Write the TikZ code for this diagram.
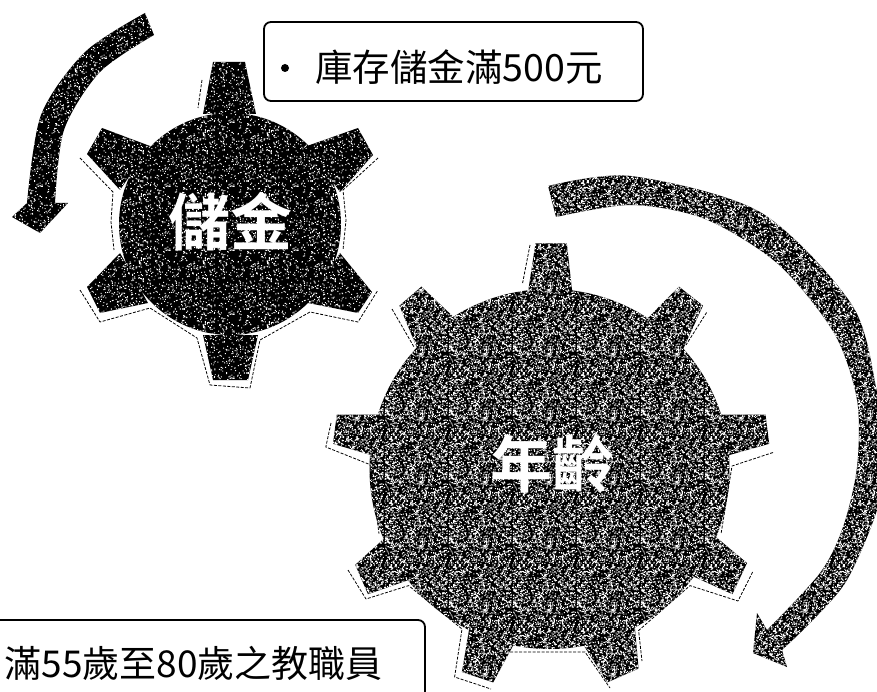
\documentclass[tikz,border=0pt]{standalone}
\usepackage{fontspec}
\usetikzlibrary{patterns}
\newfontfamily\cjk{Noto Sans CJK TC}
\newfontfamily\cjkb{Noto Sans CJK TC Bold}
\pgfmathsetseed{4242}
\newcommand{\NoiseDots}[1]{\foreach \i in {1,...,#1}{%
 \pgfmathsetmacro{\nx}{rnd*64}\pgfmathsetmacro{\ny}{rnd*64}%
 \pgfpathrectangle{\pgfqpoint{\nx pt}{\ny pt}}{\pgfqpoint{1pt}{1pt}}}\pgfusepath{fill}}
\pgfdeclarepatternformonly{noisea}{\pgfqpoint{0pt}{0pt}}{\pgfqpoint{64pt}{64pt}}{\pgfqpoint{64pt}{64pt}}{\NoiseDots{480}}
\pgfdeclarepatternformonly{noiseb}{\pgfqpoint{0pt}{0pt}}{\pgfqpoint{64pt}{64pt}}{\pgfqpoint{64pt}{64pt}}{\NoiseDots{1300}}
\newcommand{\GearA}{
 (230,224) circle[radius=111]
 (203,114)--(213,62)--(245,62)--(256,114)--cycle
 (307,146)--(358,128)--(373,155)--(340,192)--cycle
 (340,253)--(372,292)--(358,313)--(308,303)--cycle
 (258,335)--(248,380)--(213,380)--(203,335)--cycle
 (148,303)--(100,313)--(87,287)--(120,253)--cycle
 (120,190)--(87,154)--(102,128)--(150,146)--cycle}
\newcommand{\GearB}{
 (549.5,469) circle[radius=180]
 (528,292)--(535.5,243.3)--(566.8,243.3)--(572.3,292)--cycle
 (647.8,318)--(679,286.6)--(703,305.6)--(682.7,350)--cycle
 (719.5,414.5)--(765.5,414.5)--(769.2,443.8)--(726,456)--cycle
 (712,533.7)--(747,563)--(732.4,594.2)--(690,575)--cycle
 (634.9,628)--(638.6,668.6)--(607.3,682.4)--(583.4,645)--cycle
 (513.4,645)--(493.2,682.4)--(461.9,672)--(469.3,628)--cycle
 (408.6,580)--(368,594.2)--(355.2,564.8)--(388,535)--cycle
 (374,456)--(333,443.8)--(336.8,414.5)--(384.6,414.5)--cycle
 (417.8,350)--(399.4,305.6)--(421.4,286.6)--(454.6,318)--cycle}
\newcommand{\ArrowA}{
 plot[smooth] coordinates {(145,13)(85,52)(41,115)(27,203)} --(12,217)--(40,233)--(68,203)--(55,203)
 -- plot[smooth] coordinates {(55,203)(64,130)(100,72)(154,35)} -- cycle}
\newcommand{\ArrowB}{
 plot[smooth] coordinates {(548,186)(631,176)(760,212)(852,305)(877,392)(886,450)(877,510)(847,580)(813,620)(782,650)}
 --(787,667)--(753,653)--(757,613)--(767,630)
 -- plot[smooth] coordinates {(767,630)(820,573)(843,527)(857,467)(857,400)(834,333)(778,264)(705,219)(631,205)(556,217)} -- cycle}
\tikzset{
 darktex/.style={fill=black,postaction={pattern=noisea,pattern color=white}},
 greytex/.style={fill=black,postaction={pattern=noiseb,pattern color=white}},
 ghost/.style={line width=0.8pt,black,dash pattern=on 3pt off 1.5pt,line join=round},
 infobox/.style={fill=white,draw=black,line width=1.8pt,rounded corners=7pt},
 boxtext/.style={font=\cjk\fontsize{#1}{40}\selectfont,text=black,inner sep=0pt},
 geartext/.style={font=\cjkb\fontsize{62}{64}\selectfont,text=white,inner sep=0pt}
}
\begin{document}
\begin{tikzpicture}[x=1pt,y=-1pt]
\useasboundingbox (0,0) rectangle (877,692);
\clip (0,0) rectangle (877,692);
% gears and arrows
\path[darktex] \GearA;
\path[darktex] \ArrowA;
\path[greytex] \GearB;
\path[greytex] \ArrowB;
% thin ghost outlines
\draw[ghost] (80,158)--(113,192)--(111,222)--(114,250);
\draw[ghost] (80,290)--(100,322)--(150,308)--(197,338)--(210,385)--(250,388)--(260,340)--(310,312)--(358,322)--(378,290);
\draw[ghost] (378,158)--(343,190)--(346,220)--(343,250);
\draw[ghost] (202,80)--(198,108);
\draw[ghost] (392,309)--(414,347);
\draw[ghost] (706.6,312.5)--(686,345);
\draw[ghost] (530,245)--(522.6,283);
\draw[ghost] (331,423)--(325.8,447)--(370,464.6)--(379,533.7);
\draw[ghost] (348,570)--(366,599)--(408.6,585.6)--(462,629)--(454.6,677)--(491,689);
\draw[ghost] (773,452.5)--(732,466)--(721,534);
\draw[ghost] (752.6,572)--(738,601)--(690,585.6)--(638.6,630.5)--(642,661);
\draw[ghost] (510,652)--(585,652)--(610,688);
% labels in gears
\node[geartext,anchor=center] (chu) at (230,222) {儲金};
\node[geartext,anchor=center] (nian) at (552,464) {年齡};
% top box
\draw[infobox] (264,22) rectangle (643,101);
\node[boxtext=37.5,anchor=west] (topt) at (315,67) {庫存儲金滿500元};
\fill[black] (285,68) circle[radius=4];
% bottom box
\draw[infobox] (-20,620) rectangle (425,720);
\node[boxtext=37,anchor=east] (bott) at (383,663) {滿55歲至80歲之教職員};
\end{tikzpicture}
\end{document}
